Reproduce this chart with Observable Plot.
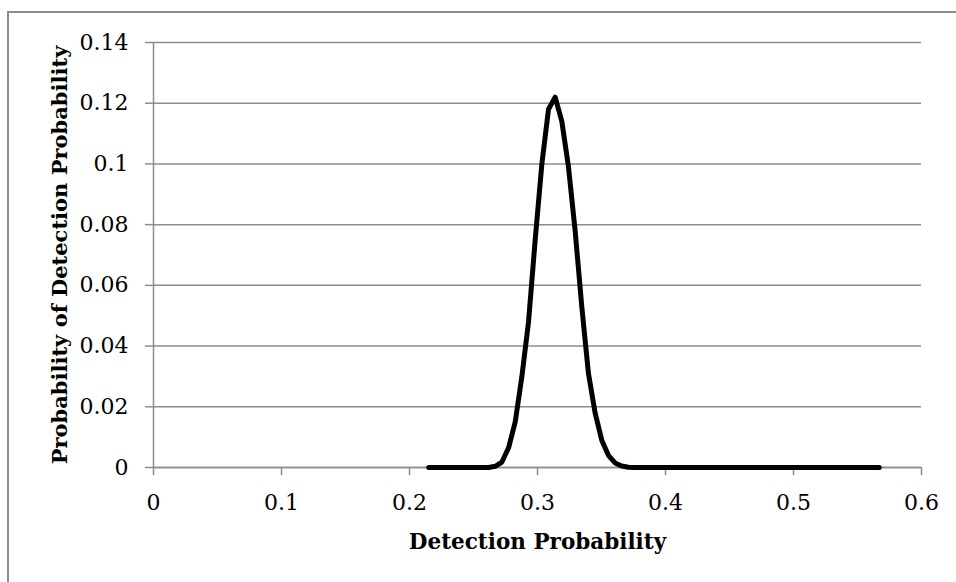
<!DOCTYPE html>
<html><head><meta charset="utf-8">
<script src="https://cdn.jsdelivr.net/npm/d3@7"></script>
<script src="https://cdn.jsdelivr.net/npm/@observablehq/plot@0.6"></script>
<style>
html,body{margin:0;padding:0;background:#fff;}
#wrap{position:relative;width:956px;height:582px;overflow:hidden;}
#border{position:absolute;left:7px;top:11px;width:1000px;height:700px;border-left:2px solid #8c8c8c;border-top:2px solid #8c8c8c;}
#chart{position:absolute;left:0;top:0;}
</style></head><body>
<div id="wrap"><div id="border"></div><div id="chart"></div></div>
<script>
const detectionProb = [0.215, 0.2618, 0.2670, 0.2722, 0.2774, 0.2826, 0.2878, 0.2930, 0.2982, 0.3034, 0.3086, 0.3138, 0.3190, 0.3242, 0.3294, 0.3346, 0.3398, 0.3450, 0.3502, 0.3554, 0.3606, 0.3658, 0.3710, 0.3762, 0.567];
const probOfDetection = [0, 0, 0.0004, 0.0018, 0.0065, 0.015, 0.030, 0.048, 0.075, 0.100, 0.118, 0.122, 0.114, 0.099, 0.078, 0.053, 0.031, 0.018, 0.009, 0.004, 0.0015, 0.0005, 0.0001, 0, 0];
const xTicks = [0, 0.1, 0.2, 0.3, 0.4, 0.5, 0.6];
const yTicks = [0, 0.02, 0.04, 0.06, 0.08, 0.1, 0.12, 0.14];
const xTitle = "Detection Probability";
const yTitle = "Probability of Detection Probability";

const table = detectionProb.map((d, i) => ({x: d, y: probOfDetection[i]}));
const gray = "#8c8c8c";
const font = "DejaVu Serif";

const chart = Plot.plot({
  width: 956, height: 582,
  marginLeft: 153, marginRight: 35, marginTop: 42, marginBottom: 115,
  style: {fontFamily: font, fontSize: "22px", color: "#000", background: "transparent", overflow: "visible"},
  x: {domain: [0, 0.6]},
  y: {domain: [0, 0.14]},
  marks: [
    Plot.gridY(yTicks, {stroke: gray, strokeOpacity: 1, strokeWidth: 1.5}),
    Plot.axisY(yTicks, {tickSize: 8, tickPadding: 17, stroke: gray, strokeWidth: 1.5, fill: "#000", fontSize: 22, label: null, tickFormat: d => String(d)}),
    Plot.axisX(xTicks, {tickSize: 8, tickPadding: 19, stroke: gray, strokeWidth: 1.5, fill: "#000", fontSize: 22, label: null, tickFormat: d => String(d)}),
    Plot.ruleX([0], {stroke: gray, strokeWidth: 1.5}),
    Plot.ruleY([0], {stroke: gray, strokeWidth: 1.5}),
    Plot.line(table, {x: "x", y: "y", stroke: "#000", strokeWidth: 5, strokeLinejoin: "round", strokeLinecap: "round"}),
    Plot.text([xTitle], {text: d => d, frameAnchor: "bottom", dy: 81, lineAnchor: "bottom", textAnchor: "middle", fontWeight: "bold", fontSize: 21.5, fill: "#000"}),
    Plot.text([yTitle], {text: d => d, frameAnchor: "left", dx: -87, rotate: -90, lineAnchor: "bottom", textAnchor: "middle", fontWeight: "bold", fontSize: 21, fill: "#000"})
  ]
});
document.getElementById("chart").appendChild(chart);
</script>
</body></html>
